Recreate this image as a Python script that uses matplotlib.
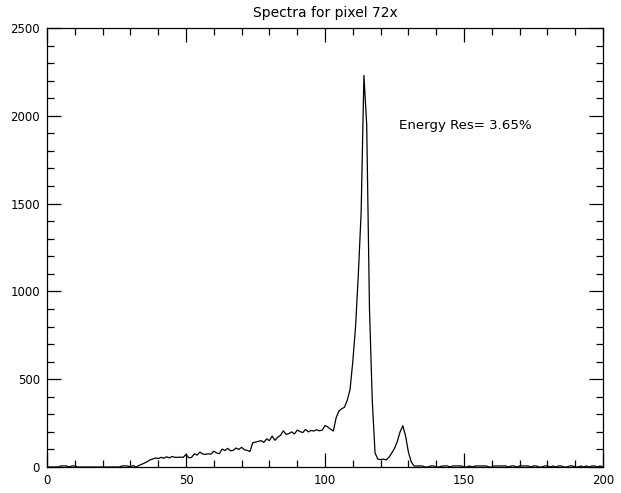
import numpy as np
import matplotlib
matplotlib.use('Agg')
import matplotlib.pyplot as plt
from matplotlib.ticker import MultipleLocator

# counts per channel (channels 0..200)
noise_left = [0, 0, 0, 0, 0, 6, 6, 6, 0, 6, 6, 0, 0, 0, 0, 0,
              0, 0, 0, 0, 0, 0, 0, 0, 0, 0, 0, 6, 6, 6, 0, 8]
continuum = [0, 8, 15, 22, 30, 40, 45, 52, 48, 55, 50, 58, 52, 60, 55, 55,
             56, 55, 72, 52, 55, 75, 68, 85, 74, 72, 75, 73, 90, 80, 76, 102,
             94, 106, 92, 95, 108, 100, 112, 98, 95, 88, 138, 142, 146, 150, 140, 160,
             150, 176, 152, 170, 180, 206, 186, 190, 200, 188, 210, 202, 196, 214, 200, 208,
             205, 212, 206, 210, 236, 228, 215, 205, 280, 318, 332, 340, 380]
peak = [440, 600, 800, 1100, 1450, 2230, 1950, 900, 380, 80, 45, 42, 45, 40, 55, 80,
        105, 145, 200, 235, 175, 85, 30, 6]
noise_right = [6, 6, 6, 0, 0, 6, 6, 0, 0, 5, 6, 6, 0, 6, 6, 6,
               6, 0, 0, 6, 0, 6, 6, 6, 6, 6, 0, 0, 6, 6, 6, 6,
               6, 0, 6, 6, 0, 6, 6, 6, 6, 0, 6, 6, 0, 0, 6, 6,
               0, 6, 0, 6, 6, 0, 0, 6, 6, 0, 0, 6, 0, 6, 0, 6,
               6, 0, 6, 0]

counts = noise_left + continuum + peak + noise_right
channels = list(range(len(counts)))

title = 'Spectra for pixel 72x'
note = 'Energy Res= 3.65%'

fig = plt.figure(figsize=(6.21, 4.93), dpi=100)
ax = fig.add_axes([47 / 621, 26 / 493, 556 / 621, 439 / 493])

ax.plot(channels, counts, color='black', linewidth=0.9)

ax.set_xlim(0, 200)
ax.set_ylim(0, 2500)
ax.xaxis.set_major_locator(MultipleLocator(50))
ax.xaxis.set_minor_locator(MultipleLocator(10))
ax.yaxis.set_major_locator(MultipleLocator(500))
ax.yaxis.set_minor_locator(MultipleLocator(100))
ax.tick_params(which='both', direction='in', top=True, right=True,
               width=0.9, color='black', labelsize=8.5)
ax.tick_params(which='major', length=10)
ax.tick_params(which='minor', length=5)
ax.tick_params(axis='x', pad=5)
ax.tick_params(axis='y', pad=5)
for sp in ax.spines.values():
    sp.set_linewidth(0.9)

ax.set_title(title, fontsize=10, pad=8)
ax.text(126.5, 1945, note, fontsize=9.6, va='center', ha='left')

plt.savefig('out.png', dpi=100)
plt.close()
